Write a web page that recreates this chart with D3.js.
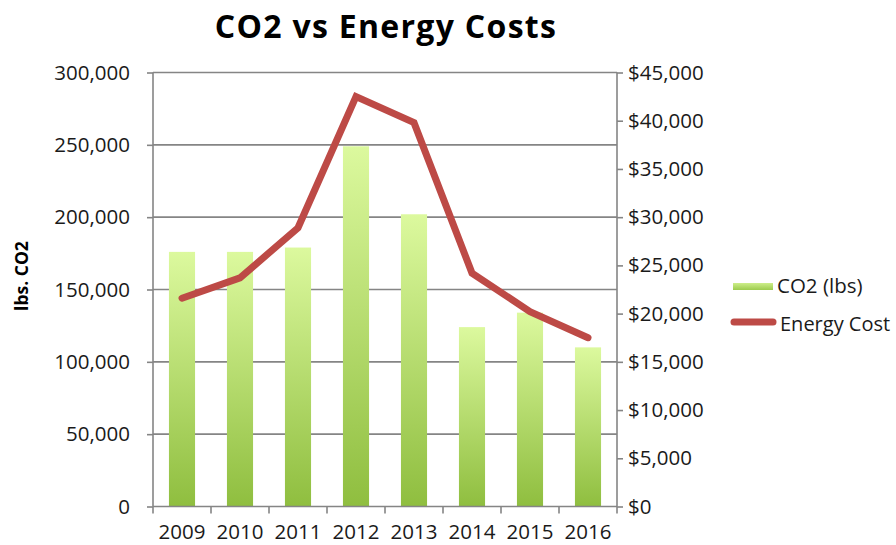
<!DOCTYPE html>
<html>
<head>
<meta charset="utf-8">
<script src="https://cdn.jsdelivr.net/npm/d3@7"></script>
<style>
  body { margin: 0; background: #fff; }
  text { font-family: "Open Sans", "Noto Sans", sans-serif; fill: #1a1a1a; }
</style>
</head>
<body>
<div id="chart"></div>
<script>
var years = ['2009', '2010', '2011', '2012', '2013', '2014', '2015', '2016']
var co2 = [176000, 176000, 179000, 249000, 202000, 124000, 134000, 110000]
var energyCost = [21600, 23700, 28900, 42500, 39800, 24200, 20200, 17500]
var co2Ticks = [0, 50000, 100000, 150000, 200000, 250000, 300000]
var costTicks = [0, 5000, 10000, 15000, 20000, 25000, 30000, 35000, 40000, 45000]

var width = 896
var height = 545
var plotLeft = 153
var plotRight = 617
var plotTop = 72.5
var plotBottom = 506.5

var svg = d3.select('#chart').append('svg')
    .attr('width', width)
    .attr('height', height)

var defs = svg.append('defs')
var grad = defs.append('linearGradient')
    .attr('id', 'barGrad')
    .attr('x1', 0).attr('y1', 0).attr('x2', 0).attr('y2', 1)
grad.append('stop').attr('offset', '0%').attr('stop-color', '#dcf99e')
grad.append('stop').attr('offset', '100%').attr('stop-color', '#8fbe3f')

var legGrad = defs.append('linearGradient')
    .attr('id', 'legGrad')
    .attr('x1', 0).attr('y1', 0).attr('x2', 0).attr('y2', 1)
legGrad.append('stop').attr('offset', '0%').attr('stop-color', '#cdee8a')
legGrad.append('stop').attr('offset', '100%').attr('stop-color', '#9ccb4e')

var x = d3.scaleBand()
    .domain(years)
    .range([plotLeft, plotRight])
    .paddingInner(0.55)
    .paddingOuter(0.275)

var xLine = d3.scaleBand()
    .domain(years)
    .range([plotLeft, plotRight])

var yLeft = d3.scaleLinear()
    .domain([0, 300000])
    .range([plotBottom, plotTop])

var yRight = d3.scaleLinear()
    .domain([0, 45000])
    .range([plotBottom, plotTop])

// title
svg.append('text')
    .attr('x', 386)
    .attr('y', 38)
    .attr('text-anchor', 'middle')
    .attr('font-size', 32)
    .attr('font-weight', 'bold')
    .attr('letter-spacing', 1.3)
    .style('fill', '#000')
    .text('CO2 vs Energy Costs')

// gridlines
svg.append('g')
    .selectAll('line')
    .data(co2Ticks.slice(1))
    .enter()
    .append('line')
    .attr('x1', plotLeft)
    .attr('x2', plotRight)
    .attr('y1', function(d){ return yLeft(d) })
    .attr('y2', function(d){ return yLeft(d) })
    .attr('stroke', '#858585')
    .attr('stroke-width', 1.6)

// bars
svg.append('g')
    .selectAll('rect')
    .data(years)
    .enter()
    .append('rect')
    .attr('x', function(d){ return x(d) })
    .attr('y', function(d, i){ return yLeft(co2[i]) })
    .attr('width', x.bandwidth())
    .attr('height', function(d, i){ return plotBottom - yLeft(co2[i]) })
    .attr('fill', 'url(#barGrad)')

// axes
var leftAxis = svg.append('g')
    .attr('transform', 'translate(' + plotLeft + ',0)')
    .call(d3.axisLeft(yLeft).tickValues(co2Ticks).tickSize(6).tickPadding(17)
        .tickFormat(d3.format(',')))

var rightAxis = svg.append('g')
    .attr('transform', 'translate(' + plotRight + ',0)')
    .call(d3.axisRight(yRight).tickValues(costTicks).tickSize(6).tickPadding(5)
        .tickFormat(function(d){ return '$' + d3.format(',')(d) }))

var bottomAxis = svg.append('g')
    .attr('transform', 'translate(0,' + plotBottom + ')')
    .call(d3.axisBottom(xLine).tickSize(0).tickPadding(18))

// category ticks between bands
svg.append('g')
    .selectAll('line')
    .data(years.concat(['end']))
    .enter()
    .append('line')
    .attr('x1', function(d, i){ return plotLeft + i * xLine.bandwidth() })
    .attr('x2', function(d, i){ return plotLeft + i * xLine.bandwidth() })
    .attr('y1', plotBottom)
    .attr('y2', plotBottom + 7)
    .attr('stroke', '#858585')
    .attr('stroke-width', 1.6)

;[leftAxis, rightAxis, bottomAxis].forEach(function(a){
    a.select('.domain').attr('stroke', '#858585').attr('stroke-width', 1.6)
    a.selectAll('.tick line').attr('stroke', '#858585').attr('stroke-width', 1.6)
    a.selectAll('.tick text')
        .attr('font-size', 20.5)
        .style('font-family', '"Open Sans", sans-serif')
        .style('fill', '#1a1a1a')
})
leftAxis.select('.domain').attr('d', 'M0,' + plotTop + 'V' + plotBottom)
rightAxis.select('.domain').attr('d', 'M0,' + plotTop + 'V' + plotBottom)
bottomAxis.select('.domain').attr('d', 'M' + plotLeft + ',0H' + plotRight)

// energy cost line
var line = d3.line()
    .x(function(d, i){ return xLine(years[i]) + xLine.bandwidth() / 2 })
    .y(function(d){ return yRight(d) })

svg.append('path')
    .datum(energyCost)
    .attr('d', line)
    .attr('fill', 'none')
    .attr('stroke', '#bd4a46')
    .attr('stroke-width', 7)
    .attr('stroke-linejoin', 'miter')
    .attr('stroke-linecap', 'round')

// y axis title
svg.append('text')
    .attr('transform', 'translate(28,276) rotate(-90)')
    .attr('text-anchor', 'middle')
    .attr('font-size', 17.5)
    .attr('font-weight', 'bold')
    .style('fill', '#000')
    .text('lbs. CO2')

// legend
var legend = svg.append('g')
legend.append('rect')
    .attr('x', 733)
    .attr('y', 283)
    .attr('width', 40)
    .attr('height', 7)
    .attr('fill', 'url(#legGrad)')
legend.append('text')
    .attr('x', 777)
    .attr('y', 293)
    .attr('font-size', 20.5)
    .text('CO2 (lbs)')
legend.append('line')
    .attr('x1', 734)
    .attr('x2', 773)
    .attr('y1', 322)
    .attr('y2', 322)
    .attr('stroke', '#bd4a46')
    .attr('stroke-width', 7)
    .attr('stroke-linecap', 'round')
legend.append('text')
    .attr('x', 780)
    .attr('y', 331)
    .attr('font-size', 20)
    .text('Energy Cost')
</script>
</body>
</html>
